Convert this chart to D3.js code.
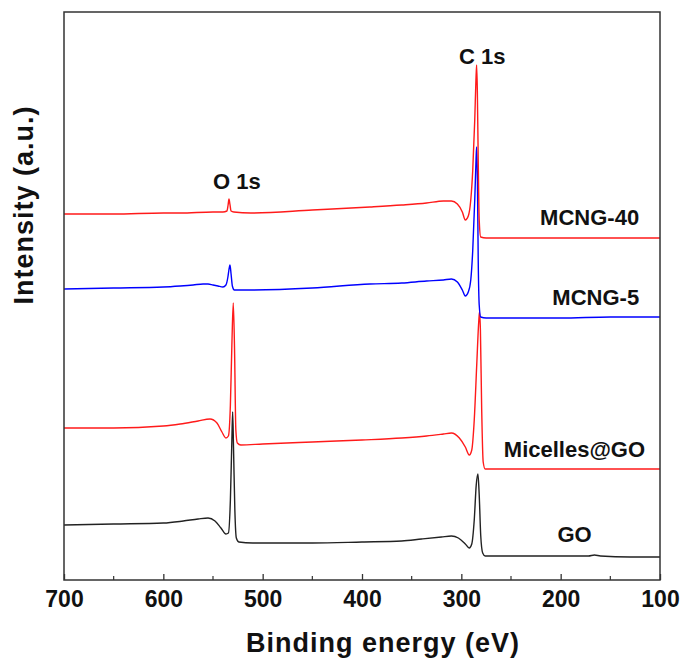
<!DOCTYPE html>
<html>
<head>
<meta charset="utf-8">
<script src="https://cdnjs.cloudflare.com/ajax/libs/d3/7.8.5/d3.min.js"></script>
<style>
  body { margin: 0; background: #fff; }
  text { font-family: "Liberation Sans", Arial, sans-serif; font-weight: bold; fill: #111; }
</style>
</head>
<body>
<script>
// XPS survey spectra: [binding energy (eV), intensity (a.u.)]
var goData = [[700,55],[650,56],[600,57],[580,59],[565,61],[555,62],[548,59],[542,52],[537,46],[534.5,47],
  [532.5,80],[531,140],[530.2,168],[529.3,130],[528,70],[526.5,42],[524,38],[510,37],[480,37],[450,37],
  [400,38],[360,39],[340,41],[320,43],[310,44],[303,42],[296,36],[292,32],[289.5,36],[287,60],[285,95],
  [283.3,106],[282,85],[280.5,45],[278.5,27],[276,24],[260,24],[230,24],[200,24],[172,24],[166,25],
  [160,24],[130,23],[100,23]];

var micellesData = [[700,152],[650,152],[600,154],[583,156],[565,159],[553,161],[546,157],[541,148],[537,142],
  [534.5,144],[532.5,175],[531,235],[529.6,277],[528.3,230],[527,150],[525.5,137],[522,135],[500,136],
  [450,138],[400,140],[360,142],[335,144],[318,146],[310,147],[302,142],[296,133],[292,125],[289.5,130],
  [287,160],[284.5,215],[282.5,258],[281.7,268],[280.8,250],[279.5,170],[278,118],[276,111],[250,111],
  [200,111],[150,111],[100,111]];

var mcng5Data = [[700,291],[650,292],[600,293],[583,294],[570,295],[560,296],[555,296],[550,295],[545,294],
  [540,293],[537,295],[535,303],[534,310],[532.9,315],[531.8,306],[530.5,294],[528.5,290],[520,290],
  [512,290],[450,292],[392,296],[360,297],[335,299],[318,300],[310,301],[304,298],[299,290],[296,284],
  [293,288],[290.5,300],[288.5,330],[286.5,380],[285.2,420],[284.6,433],[283.8,400],[283,320],[282,275],
  [280.5,263],[275,262],[250,262],[200,262],[150,263],[100,263]];

var mcng40Data = [[700,366],[650,366],[600,367],[583,367],[550,368],[540,368],[536,369],[534.8,375],
  [533.9,381],[533,376],[531.8,369],[529,368],[512,367],[450,370],[392,373],[360,375],[335,377],
  [318,379],[310,379],[304,376],[299,368],[296,360],[293,364],[290.5,380],[288.5,410],[286.5,460],
  [285.3,500],[284.6,515],[283.9,490],[283,420],[282,360],[280.5,343],[275,342],[200,342],[100,342]];

var seriesNames = ["GO", "Micelles@GO", "MCNG-5", "MCNG-40"];
var seriesColors = ["#222222", "#ff1a1a", "#0000ff", "#ff1a1a"];
var seriesData = [goData, micellesData, mcng5Data, mcng40Data];

// annotations: [text, eV, intensity, anchor]
var labels = [["GO", 186, 38, "middle"], ["Micelles@GO", 115, 123, "end"],
  ["MCNG-5", 121, 275, "end"], ["MCNG-40", 121, 355, "end"],
  ["C 1s", 279, 516, "middle"], ["O 1s", 526, 391, "middle"]];

var xTicks = [700, 600, 500, 400, 300, 200, 100];
var xMinor = [650, 550, 450, 350, 250, 150];

var width = 682, height = 659;
var plotLeft = 64, plotRight = 660, plotTop = 12, plotBottom = 580;

var svg = d3.select("body").append("svg")
  .attr("width", width)
  .attr("height", height);

var x = d3.scaleLinear().domain([700, 100]).range([plotLeft, plotRight]);
var y = d3.scaleLinear().domain([0, 568]).range([plotBottom, plotTop]);

var line = d3.line()
  .x(function(d){ return x(d[0]); })
  .y(function(d){ return y(d[1]); })
  .curve(d3.curveMonotoneX);

// spectra
svg.selectAll(".spectrum")
  .data(seriesData)
  .enter()
  .append("path")
  .attr("class", "spectrum")
  .attr("fill", "none")
  .attr("stroke", function(d, i){ return seriesColors[i]; })
  .attr("stroke-width", 1.4)
  .attr("d", line);

// frame
svg.append("rect")
  .attr("x", plotLeft).attr("y", plotTop)
  .attr("width", plotRight - plotLeft).attr("height", plotBottom - plotTop)
  .attr("fill", "none")
  .attr("stroke", "#333")
  .attr("stroke-width", 1.5);

// bottom axis, ticks pointing inward
var xAxis = d3.axisBottom(x)
  .tickValues(xTicks)
  .tickSizeInner(-6)
  .tickSizeOuter(0)
  .tickPadding(11);

var gx = svg.append("g")
  .attr("transform", "translate(0," + plotBottom + ")")
  .call(xAxis);
gx.select(".domain").remove();
gx.selectAll(".tick line").attr("stroke", "#333").attr("stroke-width", 1.3);
gx.selectAll(".tick text")
  .style("font-size", "23px")
  .style("font-family", "'Liberation Sans', Arial, sans-serif")
  .style("font-weight", "bold")
  .attr("fill", "#111");

svg.selectAll(".minor")
  .data(xMinor)
  .enter()
  .append("line")
  .attr("class", "minor")
  .attr("x1", function(d){ return x(d); })
  .attr("x2", function(d){ return x(d); })
  .attr("y1", plotBottom)
  .attr("y2", plotBottom - 4)
  .attr("stroke", "#333")
  .attr("stroke-width", 1.2);

// curve and peak labels
svg.selectAll(".lbl")
  .data(labels)
  .enter()
  .append("text")
  .attr("class", "lbl")
  .attr("x", function(d){ return x(d[1]); })
  .attr("y", function(d){ return y(d[2]); })
  .attr("text-anchor", function(d){ return d[3]; })
  .style("font-size", "22px")
  .text(function(d){ return d[0]; });

// axis titles
svg.append("text")
  .attr("x", 383)
  .attr("y", 652)
  .attr("text-anchor", "middle")
  .style("font-size", "27px")
  .style("letter-spacing", "1px")
  .text("Binding energy (eV)");

svg.append("text")
  .attr("transform", "translate(33,205) rotate(-90)")
  .attr("text-anchor", "middle")
  .style("font-size", "27px")
  .style("letter-spacing", "1px")
  .text("Intensity (a.u.)");
</script>
</body>
</html>
